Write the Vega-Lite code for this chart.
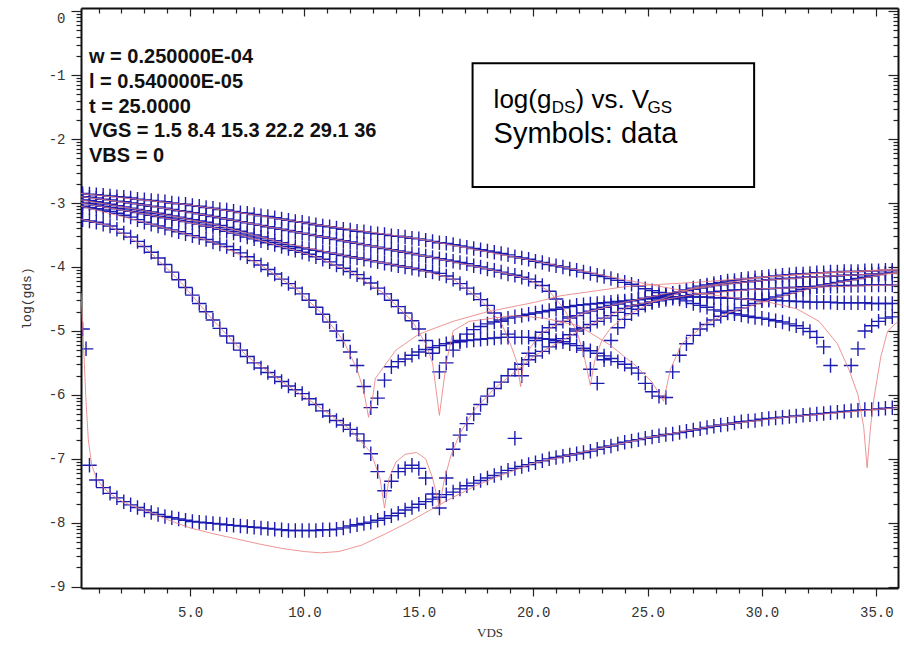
{
"$schema":"https://vega.github.io/schema/vega-lite/v6.json",
"width":817,"height":580,
"autosize":{"type":"none"},
"padding":{"left":81,"top":8,"right":6,"bottom":62},
"background":"white",
"config":{"view":{"stroke":null},"axis":{"grid":false}},
"datasets":{
"pts":[
{"x":0.3,"s":-4.97,"a":-3.26,"b":-3.05,"c":-3.0,"d":-2.95,"e":-2.9,"f":-2.85},
{"x":0.45,"s":-5.28},
{"x":0.6,"s":-7.1,"a":-3.28,"b":-3.07,"c":-3.01,"d":-2.96,"e":-2.91,"f":-2.86},
{"x":0.9,"s":-7.33,"a":-3.3,"b":-3.09,"c":-3.03,"d":-2.98,"e":-2.92,"f":-2.87},
{"x":1.2,"s":-7.45,"a":-3.33,"b":-3.11,"c":-3.05,"d":-3.0,"e":-2.94,"f":-2.88},
{"x":1.5,"s":-7.54,"a":-3.36,"b":-3.13,"c":-3.07,"d":-3.02,"e":-2.95,"f":-2.89},
{"x":1.8,"s":-7.61,"a":-3.41,"b":-3.16,"c":-3.09,"d":-3.04,"e":-2.97,"f":-2.9},
{"x":2.1,"s":-7.67,"a":-3.47,"b":-3.19,"c":-3.11,"d":-3.06,"e":-2.98,"f":-2.91},
{"x":2.4,"s":-7.72,"a":-3.53,"b":-3.22,"c":-3.13,"d":-3.08,"e":-3.0,"f":-2.92},
{"x":2.7,"s":-7.76,"a":-3.6,"b":-3.26,"c":-3.15,"d":-3.1,"e":-3.01,"f":-2.94},
{"x":3.0,"s":-7.8,"a":-3.68,"b":-3.3,"c":-3.17,"d":-3.12,"e":-3.03,"f":-2.95},
{"x":3.3,"s":-7.84,"a":-3.77,"b":-3.33,"c":-3.19,"d":-3.14,"e":-3.05,"f":-2.96},
{"x":3.6,"s":-7.87,"a":-3.86,"b":-3.36,"c":-3.21,"d":-3.16,"e":-3.06,"f":-2.97},
{"x":3.9,"s":-7.9,"a":-3.96,"b":-3.39,"c":-3.23,"d":-3.18,"e":-3.08,"f":-2.98},
{"x":4.2,"s":-7.92,"a":-4.08,"b":-3.42,"c":-3.25,"d":-3.2,"e":-3.1,"f":-3.0},
{"x":4.5,"s":-7.94,"a":-4.2,"b":-3.45,"c":-3.27,"d":-3.22,"e":-3.12,"f":-3.01},
{"x":4.8,"s":-7.96,"a":-4.32,"b":-3.48,"c":-3.29,"d":-3.24,"e":-3.13,"f":-3.02},
{"x":5.1,"s":-7.98,"a":-4.44,"b":-3.51,"c":-3.31,"d":-3.26,"e":-3.15,"f":-3.04},
{"x":5.4,"s":-7.99,"a":-4.57,"b":-3.54,"c":-3.33,"d":-3.28,"e":-3.17,"f":-3.05},
{"x":5.7,"s":-8.0,"a":-4.7,"b":-3.57,"c":-3.36,"d":-3.3,"e":-3.19,"f":-3.07},
{"x":6.0,"s":-8.01,"a":-4.83,"b":-3.61,"c":-3.38,"d":-3.33,"e":-3.21,"f":-3.08},
{"x":6.3,"s":-8.02,"a":-4.96,"b":-3.64,"c":-3.41,"d":-3.35,"e":-3.23,"f":-3.1},
{"x":6.6,"s":-8.03,"a":-5.08,"b":-3.68,"c":-3.44,"d":-3.38,"e":-3.25,"f":-3.11},
{"x":6.9,"s":-8.04,"a":-5.19,"b":-3.73,"c":-3.47,"d":-3.41,"e":-3.27,"f":-3.13},
{"x":7.2,"s":-8.05,"a":-5.3,"b":-3.78,"c":-3.5,"d":-3.44,"e":-3.29,"f":-3.15},
{"x":7.5,"s":-8.06,"a":-5.4,"b":-3.84,"c":-3.53,"d":-3.47,"e":-3.31,"f":-3.16},
{"x":7.8,"s":-8.07,"a":-5.5,"b":-3.9,"c":-3.56,"d":-3.5,"e":-3.33,"f":-3.18},
{"x":8.1,"s":-8.08,"a":-5.58,"b":-3.97,"c":-3.59,"d":-3.53,"e":-3.35,"f":-3.2},
{"x":8.4,"s":-8.09,"a":-5.65,"b":-4.04,"c":-3.62,"d":-3.56,"e":-3.37,"f":-3.21},
{"x":8.7,"s":-8.1,"a":-5.72,"b":-4.11,"c":-3.65,"d":-3.59,"e":-3.39,"f":-3.23},
{"x":9.0,"s":-8.11,"a":-5.79,"b":-4.19,"c":-3.68,"d":-3.62,"e":-3.41,"f":-3.25},
{"x":9.3,"s":-8.12,"a":-5.86,"b":-4.26,"c":-3.71,"d":-3.65,"e":-3.43,"f":-3.27},
{"x":9.6,"s":-8.12,"a":-5.92,"b":-4.33,"c":-3.74,"d":-3.68,"e":-3.45,"f":-3.29},
{"x":9.9,"s":-8.12,"a":-5.98,"b":-4.42,"c":-3.77,"d":-3.7,"e":-3.47,"f":-3.3},
{"x":10.2,"s":-8.12,"a":-6.06,"b":-4.52,"c":-3.8,"d":-3.72,"e":-3.49,"f":-3.32},
{"x":10.5,"s":-8.12,"a":-6.15,"b":-4.63,"c":-3.84,"d":-3.74,"e":-3.51,"f":-3.34},
{"x":10.8,"s":-8.11,"a":-6.25,"b":-4.74,"c":-3.88,"d":-3.76,"e":-3.53,"f":-3.36},
{"x":11.1,"s":-8.11,"a":-6.33,"b":-4.86,"c":-3.92,"d":-3.78,"e":-3.55,"f":-3.37},
{"x":11.4,"s":-8.1,"a":-6.4,"b":-5.0,"c":-3.97,"d":-3.8,"e":-3.57,"f":-3.39},
{"x":11.7,"s":-8.08,"a":-6.47,"b":-5.15,"c":-4.02,"d":-3.82,"e":-3.59,"f":-3.41},
{"x":12.0,"s":-8.05,"a":-6.54,"b":-5.33,"c":-4.07,"d":-3.84,"e":-3.61,"f":-3.42},
{"x":12.3,"s":-8.03,"a":-6.61,"b":-5.54,"c":-4.12,"d":-3.86,"e":-3.63,"f":-3.44},
{"x":12.6,"s":-8.01,"a":-6.72,"b":-5.87,"c":-4.18,"d":-3.88,"e":-3.65,"f":-3.45},
{"x":12.9,"s":-7.99,"a":-6.92,"b":-6.2,"c":-4.25,"d":-3.9,"e":-3.67,"f":-3.47},
{"x":13.2,"s":-7.96,"a":-7.2,"b":-6.05,"c":-4.33,"d":-3.92,"e":-3.69,"f":-3.48},
{"x":13.5,"s":-7.93,"a":-7.5,"b":-5.77,"c":-4.42,"d":-3.94,"e":-3.71,"f":-3.49},
{"x":13.8,"s":-7.89,"a":-7.35,"b":-5.56,"c":-4.52,"d":-3.96,"e":-3.73,"f":-3.51},
{"x":14.1,"s":-7.85,"a":-7.2,"b":-5.48,"c":-4.62,"d":-3.98,"e":-3.75,"f":-3.52},
{"x":14.4,"s":-7.8,"a":-7.15,"b":-5.44,"c":-4.72,"d":-4.0,"e":-3.77,"f":-3.53},
{"x":14.7,"s":-7.76,"a":-7.1,"b":-5.38,"c":-4.84,"d":-4.02,"e":-3.79,"f":-3.55},
{"x":15.0,"s":-7.71,"a":-7.15,"b":-5.33,"c":-4.97,"d":-4.04,"e":-3.81,"f":-3.56},
{"x":15.3,"s":-7.67,"a":-7.3,"b":-5.29,"c":-5.15,"d":-4.06,"e":-3.83,"f":-3.58},
{"x":15.6,"s":-7.63,"a":-7.55,"b":-5.26,"c":-5.35,"d":-4.08,"e":-3.85,"f":-3.6},
{"x":15.9,"s":-7.6,"a":-7.77,"b":-5.23,"c":-5.64,"d":-4.1,"e":-3.87,"f":-3.62},
{"x":16.2,"s":-7.56,"a":-7.3,"b":-5.2,"c":-5.5,"d":-4.14,"e":-3.89,"f":-3.63},
{"x":16.5,"s":-7.52,"a":-6.85,"b":-5.18,"c":-5.3,"d":-4.19,"e":-3.91,"f":-3.65},
{"x":16.8,"s":-7.47,"a":-6.63,"b":-5.17,"c":-5.15,"d":-4.26,"e":-3.93,"f":-3.67},
{"x":17.1,"s":-7.42,"a":-6.45,"b":-5.15,"c":-5.05,"d":-4.33,"e":-3.95,"f":-3.69},
{"x":17.4,"s":-7.38,"a":-6.3,"b":-5.14,"c":-4.98,"d":-4.42,"e":-3.98,"f":-3.71},
{"x":17.7,"s":-7.34,"a":-6.15,"b":-5.13,"c":-4.93,"d":-4.51,"e":-4.0,"f":-3.73},
{"x":18.0,"s":-7.3,"a":-6.02,"b":-5.12,"c":-4.89,"d":-4.6,"e":-4.03,"f":-3.75},
{"x":18.3,"s":-7.26,"a":-5.9,"b":-5.11,"c":-4.86,"d":-4.72,"e":-4.05,"f":-3.77},
{"x":18.6,"s":-7.22,"a":-5.8,"b":-5.1,"c":-4.83,"d":-4.85,"e":-4.08,"f":-3.79},
{"x":18.9,"s":-7.18,"a":-5.7,"b":-5.1,"c":-4.8,"d":-5.05,"e":-4.11,"f":-3.81},
{"x":19.2,"s":-7.15,"a":-5.6,"b":-5.1,"c":-4.78,"d":-6.68,"e":-4.13,"f":-3.84},
{"x":19.5,"s":-7.12,"a":-5.52,"b":-5.1,"c":-4.76,"d":-5.7,"e":-4.16,"f":-3.86},
{"x":19.8,"s":-7.09,"a":-5.45,"b":-5.1,"c":-4.74,"d":-5.35,"e":-4.19,"f":-3.88},
{"x":20.1,"s":-7.06,"a":-5.39,"b":-5.11,"c":-4.72,"d":-5.15,"e":-4.23,"f":-3.91},
{"x":20.4,"s":-7.03,"a":-5.32,"b":-5.12,"c":-4.7,"d":-5.02,"e":-4.29,"f":-3.93},
{"x":20.7,"s":-7.0,"a":-5.25,"b":-5.13,"c":-4.68,"d":-4.95,"e":-4.38,"f":-3.96},
{"x":21.0,"s":-6.98,"a":-5.18,"b":-5.15,"c":-4.66,"d":-4.9,"e":-4.5,"f":-3.98},
{"x":21.3,"s":-6.96,"a":-5.12,"b":-5.17,"c":-4.64,"d":-4.85,"e":-4.63,"f":-4.0},
{"x":21.6,"s":-6.94,"a":-5.06,"b":-5.2,"c":-4.62,"d":-4.8,"e":-4.78,"f":-4.03},
{"x":21.9,"s":-6.92,"a":-5.0,"b":-5.23,"c":-4.6,"d":-4.76,"e":-4.97,"f":-4.05},
{"x":22.2,"s":-6.9,"a":-4.95,"b":-5.27,"c":-4.59,"d":-4.72,"e":-5.3,"f":-4.08},
{"x":22.5,"s":-6.88,"a":-4.9,"b":-5.31,"c":-4.58,"d":-4.69,"e":-5.6,"f":-4.1},
{"x":22.8,"s":-6.85,"a":-4.85,"b":-5.35,"c":-4.57,"d":-4.66,"e":-5.82,"f":-4.13},
{"x":23.1,"s":-6.82,"a":-4.8,"b":-5.39,"c":-4.56,"d":-4.63,"e":-5.45,"f":-4.15},
{"x":23.4,"s":-6.8,"a":-4.76,"b":-5.43,"c":-4.55,"d":-4.6,"e":-5.15,"f":-4.18},
{"x":23.7,"s":-6.77,"a":-4.71,"b":-5.48,"c":-4.54,"d":-4.58,"e":-4.95,"f":-4.21},
{"x":24.0,"s":-6.74,"a":-4.65,"b":-5.52,"c":-4.53,"d":-4.55,"e":-4.82,"f":-4.24},
{"x":24.3,"s":-6.72,"a":-4.61,"b":-5.58,"c":-4.52,"d":-4.53,"e":-4.73,"f":-4.27},
{"x":24.6,"s":-6.7,"a":-4.59,"b":-5.66,"c":-4.51,"d":-4.51,"e":-4.66,"f":-4.3},
{"x":24.9,"s":-6.68,"a":-4.57,"b":-5.82,"c":-4.5,"d":-4.49,"e":-4.6,"f":-4.34},
{"x":25.2,"s":-6.66,"a":-4.55,"b":-5.95,"c":-4.49,"d":-4.47,"e":-4.55,"f":-4.37},
{"x":25.5,"s":-6.64,"a":-4.53,"b":-6.02,"c":-4.48,"d":-4.45,"e":-4.5,"f":-4.4},
{"x":25.8,"s":-6.62,"a":-4.51,"b":-6.04,"c":-4.48,"d":-4.43,"e":-4.46,"f":-4.44},
{"x":26.1,"s":-6.61,"a":-4.49,"b":-5.64,"c":-4.47,"d":-4.41,"e":-4.42,"f":-4.47},
{"x":26.4,"s":-6.59,"a":-4.47,"b":-5.38,"c":-4.47,"d":-4.39,"e":-4.39,"f":-4.5},
{"x":26.7,"s":-6.57,"a":-4.45,"b":-5.2,"c":-4.47,"d":-4.37,"e":-4.36,"f":-4.53},
{"x":27.0,"s":-6.55,"a":-4.43,"b":-5.07,"c":-4.47,"d":-4.35,"e":-4.33,"f":-4.57},
{"x":27.3,"s":-6.53,"a":-4.42,"b":-4.97,"c":-4.47,"d":-4.33,"e":-4.3,"f":-4.6},
{"x":27.6,"s":-6.51,"a":-4.41,"b":-4.9,"c":-4.47,"d":-4.31,"e":-4.28,"f":-4.63},
{"x":27.9,"s":-6.49,"a":-4.39,"b":-4.83,"c":-4.48,"d":-4.29,"e":-4.26,"f":-4.67},
{"x":28.2,"s":-6.47,"a":-4.38,"b":-4.77,"c":-4.48,"d":-4.28,"e":-4.24,"f":-4.69},
{"x":28.5,"s":-6.46,"a":-4.37,"b":-4.72,"c":-4.49,"d":-4.26,"e":-4.22,"f":-4.71},
{"x":28.8,"s":-6.44,"a":-4.36,"b":-4.68,"c":-4.49,"d":-4.25,"e":-4.21,"f":-4.73},
{"x":29.1,"s":-6.42,"a":-4.36,"b":-4.64,"c":-4.5,"d":-4.24,"e":-4.19,"f":-4.75},
{"x":29.4,"s":-6.41,"a":-4.35,"b":-4.6,"c":-4.5,"d":-4.23,"e":-4.18,"f":-4.77},
{"x":29.7,"s":-6.4,"a":-4.35,"b":-4.57,"c":-4.51,"d":-4.22,"e":-4.17,"f":-4.79},
{"x":30.0,"s":-6.38,"a":-4.34,"b":-4.53,"c":-4.51,"d":-4.21,"e":-4.16,"f":-4.8},
{"x":30.3,"s":-6.37,"a":-4.34,"b":-4.5,"c":-4.52,"d":-4.2,"e":-4.15,"f":-4.82},
{"x":30.6,"s":-6.36,"a":-4.33,"b":-4.47,"c":-4.52,"d":-4.19,"e":-4.14,"f":-4.84},
{"x":30.9,"s":-6.35,"a":-4.33,"b":-4.44,"c":-4.53,"d":-4.18,"e":-4.13,"f":-4.86},
{"x":31.2,"s":-6.34,"a":-4.32,"b":-4.41,"c":-4.53,"d":-4.18,"e":-4.12,"f":-4.89},
{"x":31.5,"s":-6.33,"a":-4.32,"b":-4.38,"c":-4.54,"d":-4.17,"e":-4.11,"f":-4.92},
{"x":31.8,"s":-6.32,"a":-4.31,"b":-4.35,"c":-4.54,"d":-4.16,"e":-4.11,"f":-4.96},
{"x":32.1,"s":-6.31,"a":-4.31,"b":-4.33,"c":-4.55,"d":-4.16,"e":-4.1,"f":-5.01},
{"x":32.4,"s":-6.3,"a":-4.31,"b":-4.3,"c":-4.55,"d":-4.15,"e":-4.09,"f":-5.1},
{"x":32.7,"s":-6.29,"a":-4.3,"b":-4.28,"c":-4.55,"d":-4.15,"e":-4.09,"f":-5.25},
{"x":33.0,"s":-6.28,"a":-4.3,"b":-4.26,"c":-4.55,"d":-4.14,"e":-4.08,"f":-5.54},
{"x":33.3,"s":-6.27,"a":-4.3,"b":-4.24,"c":-4.56,"d":-4.14,"e":-4.08},
{"x":33.6,"s":-6.26,"a":-4.29,"b":-4.22,"c":-4.56,"d":-4.13,"e":-4.07},
{"x":33.9,"s":-6.25,"a":-4.29,"b":-4.2,"c":-4.56,"d":-4.13,"e":-4.07,"f":-5.54},
{"x":34.2,"s":-6.24,"a":-4.29,"b":-4.18,"c":-4.56,"d":-4.12,"e":-4.07,"f":-5.28},
{"x":34.5,"s":-6.23,"a":-4.28,"b":-4.16,"c":-4.56,"d":-4.12,"e":-4.06,"f":-5.0},
{"x":34.8,"s":-6.23,"a":-4.28,"b":-4.14,"c":-4.57,"d":-4.11,"e":-4.06,"f":-4.92},
{"x":35.1,"s":-6.22,"a":-4.28,"b":-4.12,"c":-4.57,"d":-4.11,"e":-4.06,"f":-4.85},
{"x":35.4,"s":-6.21,"a":-4.28,"b":-4.1,"c":-4.57,"d":-4.1,"e":-4.05,"f":-4.8},
{"x":35.7,"s":-6.2,"a":-4.28,"b":-4.08,"c":-4.57,"d":-4.1,"e":-4.05,"f":-4.78}
],
"mdl":[
{"c":"s","x":0.23,"y":-4.4},{"c":"s","x":0.35,"y":-5.3},{"c":"s","x":0.45,"y":-6.1},{"c":"s","x":0.55,"y":-6.7},{"c":"s","x":0.7,"y":-7.1},{"c":"s","x":0.9,"y":-7.3},{"c":"s","x":1.2,"y":-7.45},{"c":"s","x":1.6,"y":-7.57},{"c":"s","x":2,"y":-7.66},{"c":"s","x":2.5,"y":-7.74},{"c":"s","x":3,"y":-7.8},{"c":"s","x":3.5,"y":-7.87},{"c":"s","x":4,"y":-7.95},{"c":"s","x":5,"y":-8.08},{"c":"s","x":6,"y":-8.17},{"c":"s","x":7,"y":-8.25},{"c":"s","x":8,"y":-8.33},{"c":"s","x":9,"y":-8.4},{"c":"s","x":10,"y":-8.45},{"c":"s","x":10.7,"y":-8.47},{"c":"s","x":11.5,"y":-8.45},{"c":"s","x":12.5,"y":-8.35},{"c":"s","x":13.5,"y":-8.18},{"c":"s","x":14.5,"y":-8.0},{"c":"s","x":15.5,"y":-7.8},{"c":"s","x":16.5,"y":-7.6},{"c":"s","x":17.5,"y":-7.42},{"c":"s","x":18.5,"y":-7.27},{"c":"s","x":20,"y":-7.07},{"c":"s","x":22,"y":-6.91},{"c":"s","x":25,"y":-6.67},{"c":"s","x":28,"y":-6.48},{"c":"s","x":31,"y":-6.35},{"c":"s","x":35.95,"y":-6.2},
{"c":"a","x":0.23,"y":-3.25},{"c":"a","x":1.5,"y":-3.36},{"c":"a","x":3,"y":-3.68},{"c":"a","x":4.5,"y":-4.2},{"c":"a","x":6,"y":-4.83},{"c":"a","x":7.5,"y":-5.4},{"c":"a","x":9,"y":-5.79},{"c":"a","x":10.5,"y":-6.15},{"c":"a","x":12,"y":-6.54},{"c":"a","x":12.9,"y":-6.9},{"c":"a","x":13.3,"y":-7.3},{"c":"a","x":13.5,"y":-7.77},{"c":"a","x":13.7,"y":-7.3},{"c":"a","x":14.0,"y":-7.05},{"c":"a","x":14.4,"y":-6.93},{"c":"a","x":14.9,"y":-6.9},{"c":"a","x":15.3,"y":-7.0},{"c":"a","x":15.6,"y":-7.3},{"c":"a","x":15.9,"y":-7.75},{"c":"a","x":16.1,"y":-7.35},{"c":"a","x":16.4,"y":-6.95},{"c":"a","x":16.8,"y":-6.6},{"c":"a","x":17.4,"y":-6.25},{"c":"a","x":18.3,"y":-5.9},{"c":"a","x":20.1,"y":-5.38},{"c":"a","x":22.5,"y":-4.9},{"c":"a","x":24.3,"y":-4.6},{"c":"a","x":27,"y":-4.43},{"c":"a","x":30,"y":-4.34},{"c":"a","x":35.95,"y":-4.28},
{"c":"b","x":0.23,"y":-3.05},{"c":"b","x":3,"y":-3.3},{"c":"b","x":6,"y":-3.61},{"c":"b","x":8,"y":-3.95},{"c":"b","x":9.6,"y":-4.33},{"c":"b","x":10.8,"y":-4.74},{"c":"b","x":11.7,"y":-5.15},{"c":"b","x":12.3,"y":-5.6},{"c":"b","x":12.6,"y":-5.95},{"c":"b","x":12.8,"y":-6.35},{"c":"b","x":13.0,"y":-6.0},{"c":"b","x":13.1,"y":-5.74},{"c":"b","x":14,"y":-5.3},{"c":"b","x":15,"y":-5.05},{"c":"b","x":16.5,"y":-4.85},{"c":"b","x":18,"y":-4.7},{"c":"b","x":20.1,"y":-4.55},{"c":"b","x":21.2,"y":-4.45},{"c":"b","x":24.2,"y":-4.3},{"c":"b","x":27.1,"y":-4.24},{"c":"b","x":30,"y":-4.16},{"c":"b","x":33,"y":-4.09},{"c":"b","x":35.95,"y":-4.03},
{"c":"c","x":0.23,"y":-3.0},{"c":"c","x":3,"y":-3.17},{"c":"c","x":6,"y":-3.38},{"c":"c","x":9,"y":-3.68},{"c":"c","x":10.5,"y":-3.84},{"c":"c","x":12,"y":-4.07},{"c":"c","x":13.5,"y":-4.42},{"c":"c","x":14.7,"y":-4.84},{"c":"c","x":15.3,"y":-5.2},{"c":"c","x":15.6,"y":-5.5},{"c":"c","x":15.9,"y":-6.32},{"c":"c","x":16.2,"y":-5.5},{"c":"c","x":16.5,"y":-5.0},{"c":"c","x":17.2,"y":-4.85},{"c":"c","x":19.1,"y":-4.76},{"c":"c","x":20.5,"y":-4.8},{"c":"c","x":22,"y":-4.92},{"c":"c","x":23.4,"y":-5.23},{"c":"c","x":24.5,"y":-5.55},{"c":"c","x":25.2,"y":-5.8},{"c":"c","x":25.7,"y":-6.1},{"c":"c","x":26.0,"y":-5.6},{"c":"c","x":26.5,"y":-5.2},{"c":"c","x":27.5,"y":-4.9},{"c":"c","x":28.5,"y":-4.72},{"c":"c","x":30.5,"y":-4.5},{"c":"c","x":32.5,"y":-4.3},{"c":"c","x":35.95,"y":-4.08},
{"c":"d","x":0.23,"y":-2.95},{"c":"d","x":3,"y":-3.12},{"c":"d","x":6,"y":-3.33},{"c":"d","x":9,"y":-3.62},{"c":"d","x":12,"y":-3.84},{"c":"d","x":15,"y":-4.04},{"c":"d","x":16.5,"y":-4.19},{"c":"d","x":17.7,"y":-4.51},{"c":"d","x":18.6,"y":-4.87},{"c":"d","x":19.0,"y":-5.2},{"c":"d","x":19.3,"y":-5.5},{"c":"d","x":19.45,"y":-5.87},{"c":"d","x":19.6,"y":-5.45},{"c":"d","x":19.9,"y":-5.25},{"c":"d","x":20.3,"y":-5.05},{"c":"d","x":21,"y":-4.9},{"c":"d","x":22.2,"y":-4.72},{"c":"d","x":24,"y":-4.55},{"c":"d","x":26,"y":-4.4},{"c":"d","x":28,"y":-4.29},{"c":"d","x":30,"y":-4.21},{"c":"d","x":33,"y":-4.14},{"c":"d","x":35.95,"y":-4.1},
{"c":"e","x":0.23,"y":-2.9},{"c":"e","x":3,"y":-3.03},{"c":"e","x":6,"y":-3.21},{"c":"e","x":9,"y":-3.41},{"c":"e","x":12,"y":-3.61},{"c":"e","x":15,"y":-3.81},{"c":"e","x":18,"y":-4.03},{"c":"e","x":19.8,"y":-4.19},{"c":"e","x":20.7,"y":-4.38},{"c":"e","x":21.3,"y":-4.63},{"c":"e","x":21.9,"y":-5.0},{"c":"e","x":22.2,"y":-5.35},{"c":"e","x":22.5,"y":-5.85},{"c":"e","x":22.7,"y":-5.45},{"c":"e","x":23.0,"y":-5.15},{"c":"e","x":23.4,"y":-4.95},{"c":"e","x":24,"y":-4.78},{"c":"e","x":25.2,"y":-4.55},{"c":"e","x":27,"y":-4.33},{"c":"e","x":30,"y":-4.16},{"c":"e","x":33,"y":-4.08},{"c":"e","x":35.95,"y":-4.05},
{"c":"f","x":0.23,"y":-2.85},{"c":"f","x":5,"y":-3.03},{"c":"f","x":10,"y":-3.31},{"c":"f","x":15,"y":-3.56},{"c":"f","x":20,"y":-3.9},{"c":"f","x":24,"y":-4.2},{"c":"f","x":27,"y":-4.4},{"c":"f","x":30.3,"y":-4.55},{"c":"f","x":31.5,"y":-4.65},{"c":"f","x":32.5,"y":-4.85},{"c":"f","x":33.3,"y":-5.2},{"c":"f","x":33.8,"y":-5.6},{"c":"f","x":34.2,"y":-6.0},{"c":"f","x":34.45,"y":-6.5},{"c":"f","x":34.6,"y":-7.14},{"c":"f","x":34.75,"y":-6.5},{"c":"f","x":34.9,"y":-6.05},{"c":"f","x":35.2,"y":-5.4},{"c":"f","x":35.5,"y":-5.0},{"c":"f","x":35.95,"y":-4.85}
]
},
"layer":[
{"data":{"name":"pts"},
 "transform":[{"fold":["s","a","b","c","d","e","f"],"as":["c","y"]},{"filter":"isValid(datum.y)"}],
 "mark":{"type":"point","shape":"M-1,0H1M0,-1V1","size":210,"filled":false,"stroke":"#1c1cb0","strokeWidth":1.4,"opacity":1,"clip":true},
 "encoding":{
  "x":{"field":"x","type":"quantitative","axis":null},
  "y":{"field":"y","type":"quantitative","axis":null},
  "detail":{"field":"c"}}},
{"data":{"name":"mdl"},
 "mark":{"type":"line","color":"#ea7a7a","strokeWidth":1,"opacity":0.8,"clip":true},
 "encoding":{
  "x":{"field":"x","type":"quantitative","scale":{"domain":[0.23,35.95],"nice":false,"zero":false},
   "axis":{"orient":"bottom","title":"VDS","values":[1,2,3,4,5,6,7,8,9,10,11,12,13,14,15,16,17,18,19,20,21,22,23,24,25,26,27,28,29,30,31,32,33,34,35],
    "labelExpr":"datum.value % 5 === 0 ? format(datum.value, '.1f') : ''","labelOverlap":false,"labelFlush":false,
    "labelFont":"Liberation Mono","labelFontSize":14,"labelColor":"#333","labelPadding":9,
    "tickColor":"#222","tickWidth":1.2,"tickSize":{"condition":{"test":"datum.value % 5 === 0","value":8},"value":5},
    "domainColor":"#111","domainWidth":2,"titleFont":"Liberation Serif","titleFontSize":13,"titleFontWeight":"normal","titleColor":"#333","titlePadding":7,"grid":false}},
  "y":{"field":"y","type":"quantitative","scale":{"domain":[-9.02,0.05],"nice":false,"zero":false},
   "axis":{"orient":"left","title":"log(gds)","values":[0,-0.046,-0.097,-0.155,-0.222,-0.301,-0.398,-0.523,-0.699,-1,-1.046,-1.097,-1.155,-1.222,-1.301,-1.398,-1.523,-1.699,-2,-2.046,-2.097,-2.155,-2.222,-2.301,-2.398,-2.523,-2.699,-3,-3.046,-3.097,-3.155,-3.222,-3.301,-3.398,-3.523,-3.699,-4,-4.046,-4.097,-4.155,-4.222,-4.301,-4.398,-4.523,-4.699,-5,-5.046,-5.097,-5.155,-5.222,-5.301,-5.398,-5.523,-5.699,-6,-6.046,-6.097,-6.155,-6.222,-6.301,-6.398,-6.523,-6.699,-7,-7.046,-7.097,-7.155,-7.222,-7.301,-7.398,-7.523,-7.699,-8,-8.046,-8.097,-8.155,-8.222,-8.301,-8.398,-8.523,-8.699,-9],
    "labelExpr":"datum.value === round(datum.value) ? '' + datum.value : ''","labelOverlap":false,"labelFlush":false,
    "labelBaseline":{"condition":{"test":"datum.value === 0","value":"top"},"value":"middle"},
    "labelFont":"Liberation Mono","labelFontSize":14,"labelColor":"#333","labelPadding":6,
    "tickColor":"#222","tickWidth":1.2,"tickSize":{"condition":{"test":"datum.value === round(datum.value)","value":10},"value":5},
    "domainColor":"#111","domainWidth":2,"titleFont":"Liberation Mono","titleFontSize":13,"titleFontWeight":"normal","titleColor":"#333","titlePadding":15,"grid":false}},
  "detail":{"field":"c"}}},
{"data":{"values":[{"x":1,"y":-1}]},
 "mark":{"type":"point","opacity":0},
 "encoding":{
  "x":{"field":"x","type":"quantitative",
   "axis":{"orient":"top","title":null,"labels":false,"values":[1,2,3,4,5,6,7,8,9,10,11,12,13,14,15,16,17,18,19,20,21,22,23,24,25,26,27,28,29,30,31,32,33,34,35],
    "tickColor":"#222","tickWidth":1.2,"tickSize":{"condition":{"test":"datum.value % 5 === 0","value":-8},"value":-5},
    "domainColor":"#111","domainWidth":2,"grid":false}},
  "y":{"field":"y","type":"quantitative",
   "axis":{"orient":"right","title":null,"labels":false,"values":[0,-0.046,-0.097,-0.155,-0.222,-0.301,-0.398,-0.523,-0.699,-1,-1.046,-1.097,-1.155,-1.222,-1.301,-1.398,-1.523,-1.699,-2,-2.046,-2.097,-2.155,-2.222,-2.301,-2.398,-2.523,-2.699,-3,-3.046,-3.097,-3.155,-3.222,-3.301,-3.398,-3.523,-3.699,-4,-4.046,-4.097,-4.155,-4.222,-4.301,-4.398,-4.523,-4.699,-5,-5.046,-5.097,-5.155,-5.222,-5.301,-5.398,-5.523,-5.699,-6,-6.046,-6.097,-6.155,-6.222,-6.301,-6.398,-6.523,-6.699,-7,-7.046,-7.097,-7.155,-7.222,-7.301,-7.398,-7.523,-7.699,-8,-8.046,-8.097,-8.155,-8.222,-8.301,-8.398,-8.523,-8.699,-9],
    "tickColor":"#222","tickWidth":1.2,"tickSize":{"condition":{"test":"datum.value === round(datum.value)","value":-10},"value":-5},
    "domainColor":"#111","domainWidth":2,"grid":false}}}},
{"data":{"values":[{}]},
 "mark":{"type":"rect","fill":"white","stroke":"#000","strokeWidth":2},
 "encoding":{"x":{"datum":17.35,"type":"quantitative","axis":null},"x2":{"datum":29.66},"y":{"datum":-0.8125,"type":"quantitative","axis":null},"y2":{"datum":-2.75}}},
{"data":{"values":[{}]},
 "mark":{"type":"text","align":"left","baseline":"alphabetic","font":"Liberation Sans","fontSize":20,"fontWeight":"bold","lineHeight":24.75,"color":"#111"},
 "encoding":{"x":{"datum":0.58,"type":"quantitative","axis":null},"y":{"datum":-0.8125,"type":"quantitative","axis":null},
  "text":{"value":["w = 0.250000E-04","l = 0.540000E-05","t = 25.0000","VGS = 1.5 8.4 15.3 22.2 29.1 36","VBS = 0"]}}},
{"data":{"values":[{}]},
 "mark":{"type":"text","align":"left","baseline":"alphabetic","font":"Liberation Sans","fontSize":26,"color":"#000"},
 "encoding":{"x":{"datum":18.27,"type":"quantitative","axis":null},"y":{"datum":-1.516,"type":"quantitative","axis":null},"text":{"value":"log(g"}}},
{"data":{"values":[{}]},
 "mark":{"type":"text","align":"left","baseline":"alphabetic","font":"Liberation Sans","fontSize":17,"color":"#000"},
 "encoding":{"x":{"datum":20.81,"type":"quantitative","axis":null},"y":{"datum":-1.594,"type":"quantitative","axis":null},"text":{"value":"DS"}}},
{"data":{"values":[{}]},
 "mark":{"type":"text","align":"left","baseline":"alphabetic","font":"Liberation Sans","fontSize":26,"color":"#000"},
 "encoding":{"x":{"datum":21.85,"type":"quantitative","axis":null},"y":{"datum":-1.516,"type":"quantitative","axis":null},"text":{"value":") vs. V"}}},
{"data":{"values":[{}]},
 "mark":{"type":"text","align":"left","baseline":"alphabetic","font":"Liberation Sans","fontSize":17,"color":"#000"},
 "encoding":{"x":{"datum":25.0,"type":"quantitative","axis":null},"y":{"datum":-1.594,"type":"quantitative","axis":null},"text":{"value":"GS"}}},
{"data":{"values":[{}]},
 "mark":{"type":"text","align":"left","baseline":"alphabetic","font":"Liberation Sans","fontSize":29,"color":"#000"},
 "encoding":{"x":{"datum":18.27,"type":"quantitative","axis":null},"y":{"datum":-2.0625,"type":"quantitative","axis":null},"text":{"value":"Symbols: data"}}}
],
"resolve":{"axis":{"x":"independent","y":"independent"}}
}
